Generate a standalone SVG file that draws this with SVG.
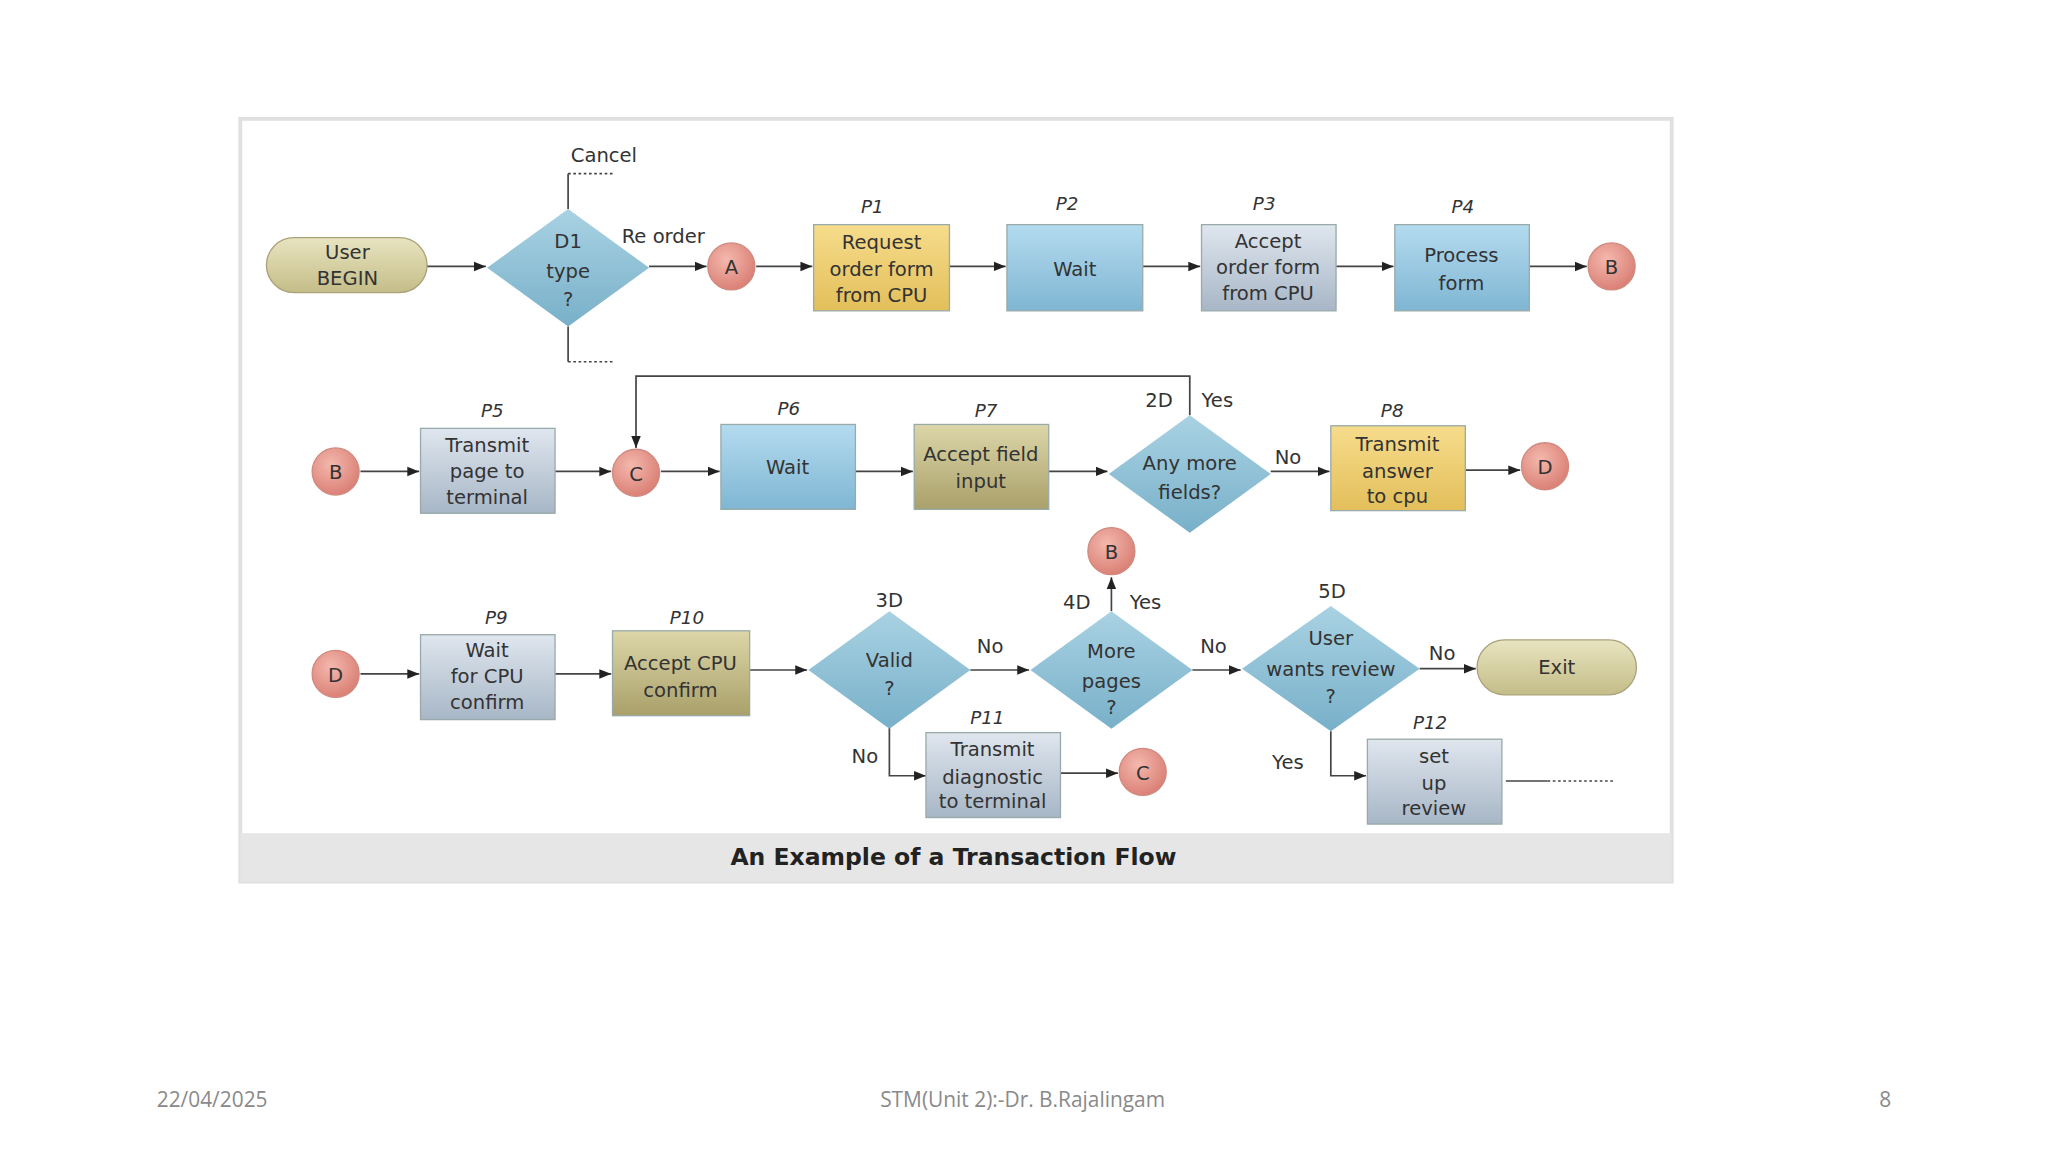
<svg xmlns="http://www.w3.org/2000/svg" width="2048" height="1152" viewBox="0 0 2048 1152">
<defs>
<linearGradient id="gT" x1="0" y1="0" x2="0" y2="1"><stop offset="0" stop-color="#e8e4c0"/><stop offset="1" stop-color="#c4bd88"/></linearGradient>
<linearGradient id="gD" x1="0" y1="0" x2="0" y2="1"><stop offset="0" stop-color="#a9d2e3"/><stop offset="1" stop-color="#78b0c9"/></linearGradient>
<linearGradient id="gB" x1="0" y1="0" x2="0" y2="1"><stop offset="0" stop-color="#b4dbef"/><stop offset="1" stop-color="#7fb6d3"/></linearGradient>
<linearGradient id="gY" x1="0" y1="0" x2="0" y2="1"><stop offset="0" stop-color="#f6dc8c"/><stop offset="1" stop-color="#e3bf5a"/></linearGradient>
<linearGradient id="gG" x1="0" y1="0" x2="0" y2="1"><stop offset="0" stop-color="#dfe6ee"/><stop offset="1" stop-color="#a7b6c6"/></linearGradient>
<linearGradient id="gO" x1="0" y1="0" x2="0" y2="1"><stop offset="0" stop-color="#dcd6a8"/><stop offset="1" stop-color="#a9a06a"/></linearGradient>
<radialGradient id="gC" cx="0.4" cy="0.35" r="0.7"><stop offset="0" stop-color="#f4b8ae"/><stop offset="1" stop-color="#d97d72"/></radialGradient>
<marker id="ar" viewBox="0 0 10 10" refX="10" refY="5" markerWidth="7" markerHeight="7" orient="auto"><path d="M0,1 L10,5 L0,9 z" fill="#222"/></marker>
<style>
text{font-family:"DejaVu Sans","Liberation Sans",sans-serif;fill:#333;}
.t{font-size:15px;text-anchor:middle;}
.l{font-size:15px;}
.p{font-size:14px;font-style:italic;text-anchor:middle;}
.c{font-size:15px;text-anchor:middle;}
.box{stroke:#9aa;stroke-width:1;}
.cir{fill:url(#gC);stroke:#d08a80;}
.dia{fill:url(#gD);stroke:none;}
.cn{fill:none;stroke:#444;stroke-width:1.3;}
.ca{fill:none;stroke:#444;stroke-width:1.3;marker-end:url(#ar);}
.dt{fill:none;stroke:#444;stroke-width:1.3;stroke-dasharray:2 2;}
.ft{font-family:"Open Sans","Liberation Sans",sans-serif;font-size:16px;fill:#8a8a8a;}
</style>
</defs>
<rect width="2048" height="1152" fill="#fff"/>
<g transform="scale(1.306)">
<g id="frame">
<rect x="184" y="91" width="1096" height="584" fill="#fff" stroke="#e0e0e0" stroke-width="3"/>
<rect x="184" y="638" width="1096" height="37" fill="#e6e6e6"/>
<text x="730" y="662" style="font-size:18px;font-weight:bold;text-anchor:middle;fill:#222">An Example of a Transaction Flow</text>
</g>
<g id="connectors">
<path class="ca" d="M327,204 H372"/>
<path class="cn" d="M435,160 V133"/><path class="dt" d="M435,133 H471"/>
<path class="cn" d="M435,250 V277"/><path class="dt" d="M435,277 H471"/>
<path class="ca" d="M497,204 H541"/>
<path class="ca" d="M579,204 H622"/>
<path class="ca" d="M727,204 H770"/>
<path class="ca" d="M875,204 H919"/>
<path class="ca" d="M1023,204 H1067"/>
<path class="ca" d="M1171,204 H1215"/>
<path class="ca" d="M276,361 H321"/>
<path class="ca" d="M425,361 H468"/>
<path class="ca" d="M506,361 H551"/>
<path class="ca" d="M655,361 H699"/>
<path class="ca" d="M803,361 H848"/>
<path class="ca" d="M911,318 V288 H487 V343"/>
<path class="ca" d="M973,361 H1018"/>
<path class="ca" d="M1122,360 H1164"/>
<path class="ca" d="M276,516 H321"/>
<path class="ca" d="M425,516 H468"/>
<path class="ca" d="M574,513 H618"/>
<path class="ca" d="M743,513 H788"/>
<path class="ca" d="M851,468 V442"/>
<path class="ca" d="M913,513 H950"/>
<path class="ca" d="M1087,512 H1130"/>
<path class="ca" d="M681,557 V594 H709"/>
<path class="ca" d="M812,592 H856"/>
<path class="ca" d="M1019,560 V594 H1046"/>
<path class="cn" d="M1153,598 H1185"/><path class="dt" d="M1185,598 H1237"/>
</g>
<g id="labels">
<text class="l" x="437" y="124">Cancel</text>
<text class="l" x="476" y="186">Re order</text>
<text class="l" x="877" y="312">2D</text>
<text class="l" x="920" y="312">Yes</text>
<text class="l" x="976" y="355">No</text>
<text class="c" x="681" y="465">3D</text>
<text class="l" x="748" y="500">No</text>
<text class="l" x="814" y="466">4D</text>
<text class="l" x="865" y="466">Yes</text>
<text class="l" x="919" y="500">No</text>
<text class="c" x="1020" y="458">5D</text>
<text class="l" x="1094" y="505">No</text>
<text class="l" x="652" y="584">No</text>
<text class="l" x="974" y="589">Yes</text>
</g>
<g id="begin"><rect x="204" y="182" width="123" height="42" rx="21" fill="url(#gT)" stroke="#aaa27a"/><text class="t" x="266" y="198">User</text><text class="t" x="266" y="218">BEGIN</text></g>
<g id="d1"><path class="dia" d="M435,160 L497,205 L435,250 L373,205 z"/><text class="t" x="435" y="190">D1</text><text class="t" x="435" y="213">type</text><text class="t" x="435" y="234">?</text></g>
<g id="a1"><circle class="cir" cx="560" cy="204" r="18"/><text class="c" x="560" y="210">A</text></g>
<g id="p1"><text class="p" x="668" y="163">P1</text><rect class="box" x="623" y="172" width="104" height="66" fill="url(#gY)"/><text class="t" x="675" y="191">Request</text><text class="t" x="675" y="211">order form</text><text class="t" x="675" y="231">from CPU</text></g>
<g id="p2"><text class="p" x="817" y="161">P2</text><rect class="box" x="771" y="172" width="104" height="66" fill="url(#gB)"/><text class="t" x="823" y="211">Wait</text></g>
<g id="p3"><text class="p" x="968" y="161">P3</text><rect class="box" x="920" y="172" width="103" height="66" fill="url(#gG)"/><text class="t" x="971" y="190">Accept</text><text class="t" x="971" y="210">order form</text><text class="t" x="971" y="230">from CPU</text></g>
<g id="p4"><text class="p" x="1120" y="163">P4</text><rect class="box" x="1068" y="172" width="103" height="66" fill="url(#gB)"/><text class="t" x="1119" y="201">Process</text><text class="t" x="1119" y="222">form</text></g>
<g id="b1"><circle class="cir" cx="1234" cy="204" r="18"/><text class="c" x="1234" y="210">B</text></g>
<g id="b2"><circle class="cir" cx="257" cy="361" r="18"/><text class="c" x="257" y="367">B</text></g>
<g id="p5"><text class="p" x="377" y="319">P5</text><rect class="box" x="322" y="328" width="103" height="65" fill="url(#gG)"/><text class="t" x="373" y="346">Transmit</text><text class="t" x="373" y="366">page to</text><text class="t" x="373" y="386">terminal</text></g>
<g id="c1"><circle class="cir" cx="487" cy="362" r="18"/><text class="c" x="487" y="368">C</text></g>
<g id="p6"><text class="p" x="604" y="318">P6</text><rect class="box" x="552" y="325" width="103" height="65" fill="url(#gB)"/><text class="t" x="603" y="363">Wait</text></g>
<g id="p7"><text class="p" x="755" y="319">P7</text><rect class="box" x="700" y="325" width="103" height="65" fill="url(#gO)"/><text class="t" x="751" y="353">Accept field</text><text class="t" x="751" y="374">input</text></g>
<g id="d2"><path class="dia" d="M911,318 L973,363 L911,408 L849,363 z"/><text class="t" x="911" y="360">Any more</text><text class="t" x="911" y="382">fields?</text></g>
<g id="p8"><text class="p" x="1066" y="319">P8</text><rect class="box" x="1019" y="326" width="103" height="65" fill="url(#gY)"/><text class="t" x="1070" y="345">Transmit</text><text class="t" x="1070" y="366">answer</text><text class="t" x="1070" y="385">to cpu</text></g>
<g id="d_1"><circle class="cir" cx="1183" cy="357" r="18"/><text class="c" x="1183" y="363">D</text></g>
<g id="d_2"><circle class="cir" cx="257" cy="516" r="18"/><text class="c" x="257" y="522">D</text></g>
<g id="p9"><text class="p" x="380" y="478">P9</text><rect class="box" x="322" y="486" width="103" height="65" fill="url(#gG)"/><text class="t" x="373" y="503">Wait</text><text class="t" x="373" y="523">for CPU</text><text class="t" x="373" y="543">confirm</text></g>
<g id="p10"><text class="p" x="526" y="478">P10</text><rect class="box" x="469" y="483" width="105" height="65" fill="url(#gO)"/><text class="t" x="521" y="513">Accept CPU</text><text class="t" x="521" y="534">confirm</text></g>
<g id="d3"><path class="dia" d="M681,468 L743,513 L681,558 L619,513 z"/><text class="t" x="681" y="511">Valid</text><text class="t" x="681" y="532">?</text></g>
<g id="d4"><path class="dia" d="M851,468 L913,513 L851,558 L789,513 z"/><text class="t" x="851" y="504">More</text><text class="t" x="851" y="527">pages</text><text class="t" x="851" y="547">?</text></g>
<g id="b3"><circle class="cir" cx="851" cy="422" r="18"/><text class="c" x="851" y="428">B</text></g>
<g id="d5"><path class="dia" d="M1019,464 L1087,512 L1019,560 L951,512 z"/><text class="t" x="1019" y="494">User</text><text class="t" x="1019" y="518">wants review</text><text class="t" x="1019" y="538">?</text></g>
<g id="exit"><rect x="1131" y="490" width="122" height="42" rx="21" fill="url(#gT)" stroke="#aaa27a"/><text class="t" x="1192" y="516">Exit</text></g>
<g id="p11"><text class="p" x="756" y="554">P11</text><rect class="box" x="709" y="561" width="103" height="65" fill="url(#gG)"/><text class="t" x="760" y="579">Transmit</text><text class="t" x="760" y="600">diagnostic</text><text class="t" x="760" y="619">to terminal</text></g>
<g id="c2"><circle class="cir" cx="875" cy="591" r="18"/><text class="c" x="875" y="597">C</text></g>
<g id="p12"><text class="p" x="1095" y="558">P12</text><rect class="box" x="1047" y="566" width="103" height="65" fill="url(#gG)"/><text class="t" x="1098" y="584">set</text><text class="t" x="1098" y="605">up</text><text class="t" x="1098" y="624">review</text></g>
<g id="footer">
<text class="ft" x="120" y="848">22/04/2025</text>
<text class="ft" x="783" y="848" text-anchor="middle">STM(Unit 2):-Dr. B.Rajalingam</text>
<text class="ft" x="1448" y="848" text-anchor="end">8</text>
</g>
</g>
</svg>
